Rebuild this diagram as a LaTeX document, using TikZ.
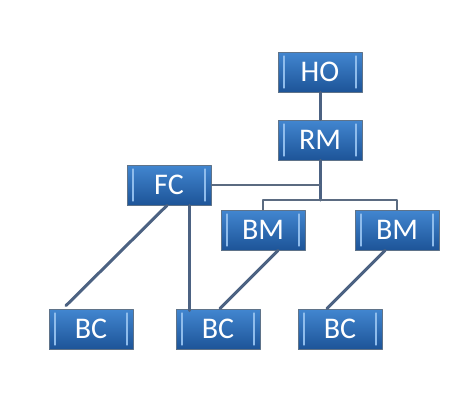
\documentclass[tikz,border=0pt]{standalone}
\usepackage{fontspec}
\setsansfont{Carlito}
\usetikzlibrary{calc}
\definecolor{boxtop}{HTML}{4286D0}
\definecolor{boxbot}{HTML}{1D5498}
\definecolor{boxrim}{HTML}{5F7389}
\definecolor{shine}{HTML}{8FBCEB}
\definecolor{linkblue}{HTML}{4C6282}

\begin{document}
\begin{tikzpicture}[x=1pt, y=-1pt, line cap=round, line join=round,
  post/.style={draw=boxrim, line width=0.8pt, top color=boxtop, bottom color=boxbot,
    minimum width=84pt, minimum height=40pt, inner sep=0pt, text=white,
    font=\sffamily\fontsize{30}{34}\selectfont,
    path picture={
      \draw[shine, line width=1.1pt]
        ($(path picture bounding box.north west)+(6,4)$) -- ($(path picture bounding box.south west)+(6,-4)$);
      \draw[shine, line width=1.1pt]
        ($(path picture bounding box.north east)+(-6,4)$) -- ($(path picture bounding box.south east)+(-6,-4)$);
    }},
  link/.style={draw=linkblue, line width=3pt},
  thin link/.style={draw=linkblue!70!gray, line width=1.8pt}]
  \useasboundingbox[fill=white] (0,0) rectangle (463,413);

  % management chain
  \node[post] (ho)  at (320,72)  {HO};
  \node[post] (rm)  at (320,140) {RM};
  \node[post] (fc)  at (169,185) {FC};
  \node[post] (bm1) at (263,230) {BM};
  \node[post] (bm2) at (397,230) {BM};

  % branch level
  \node[post] (bc1) at (91,329)  {BC};
  \node[post] (bc2) at (218,329) {BC};
  \node[post] (bc3) at (340,329) {BC};

  % elbow under RM
  \coordinate (split) at (320,200);
  \coordinate (joint) at (320,185);

  \draw[link] (ho) -- (rm);
  \draw[link] (rm) -- (split);
  \draw[thin link] (fc.east) -- (joint);
  \draw[thin link] (bm1.north) |- (split) -| (bm2.north);

  % lines down to the BC boxes
  \draw[link] ($(fc.south)+(-2,0)$) -- ($(bc1.north)+(-25,-3)$);
  \draw[link] ($(fc.south)+(20,0)$) -- ($(bc2.north)+(-29,2)$);
  \draw[link] ($(bm1.south)+(15,0)$) -- ($(bc2.north)+(2,0)$);
  \draw[link] ($(bm2.south)+(-12,0)$) -- ($(bc3.north)+(-13,0)$);
\end{tikzpicture}
\end{document}
